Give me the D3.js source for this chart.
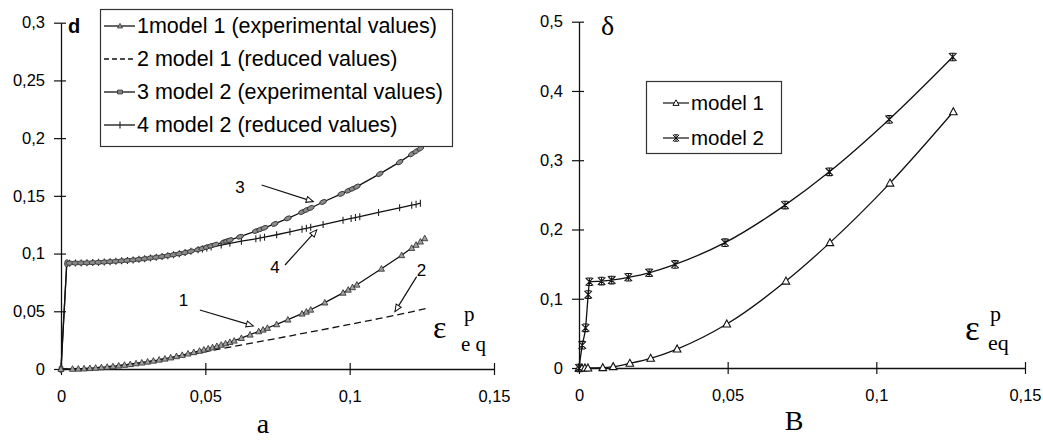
<!DOCTYPE html>
<html>
<head>
<meta charset="utf-8">
<script src="https://cdn.jsdelivr.net/npm/d3@7"></script>
<style>
  html, body { margin: 0; padding: 0; background: #fff; }
  svg { display: block; }
</style>
</head>
<body>
<svg id="chart" width="1043" height="444"></svg>
<script>
// ---------- data ----------
const xTickValues = [0, 0.05, 0.1, 0.15];
const aYTickValues = [0, 0.05, 0.1, 0.15, 0.2, 0.25, 0.3];
const bYTickValues = [0, 0.1, 0.2, 0.3, 0.4, 0.5];

// panel a, curve 1: model 1, experimental values [strain, damage]
const aModel1Exp = [
  [0, 0], [0.004, 0.0001], [0.006, 0.0002], [0.008, 0.0004], [0.010, 0.0007], [0.012, 0.0010],
  [0.014, 0.0014], [0.016, 0.0018], [0.018, 0.0023], [0.020, 0.0029], [0.022, 0.0035], [0.024, 0.0041],
  [0.026, 0.0048], [0.028, 0.0055], [0.030, 0.0063], [0.032, 0.0071], [0.034, 0.0080], [0.036, 0.0089],
  [0.038, 0.0099], [0.040, 0.0110], [0.042, 0.0121], [0.044, 0.0133], [0.046, 0.0145], [0.048, 0.0157],
  [0.0495, 0.0167], [0.051, 0.0177], [0.0525, 0.0187], [0.054, 0.0198], [0.0555, 0.0209], [0.057, 0.0221],
  [0.0585, 0.0233], [0.060, 0.0245], [0.0625, 0.0268], [0.0655, 0.0297], [0.0685, 0.0326], [0.070, 0.0340],
  [0.0715, 0.0355], [0.0747, 0.0387], [0.0786, 0.0427], [0.0835, 0.0479], [0.085, 0.0496], [0.0865, 0.0513],
  [0.0914, 0.0575], [0.0977, 0.0660], [0.0995, 0.0686], [0.101, 0.0708], [0.1025, 0.0730], [0.111, 0.0868],
  [0.118, 0.0985], [0.1215, 0.1048], [0.123, 0.1075], [0.1245, 0.1103], [0.126, 0.1132]
];

// panel a, curve 2: model 1, reduced values
const aModel1Red = [
  [0, 0], [0.01, 0.0007], [0.02, 0.0029], [0.03, 0.0063], [0.04, 0.0105], [0.05, 0.0150], [0.06, 0.0196],
  [0.07, 0.0243], [0.08, 0.0290], [0.09, 0.0338], [0.10, 0.0386], [0.11, 0.0436], [0.12, 0.0488], [0.1266, 0.0524]
];

// panel a, curves 3 and 4 share the initial jump and the early plateau
const aModel2Early = [
  [0, 0], [0.002, 0.0916], [0.003, 0.0917], [0.005, 0.0918], [0.007, 0.0919], [0.009, 0.0920],
  [0.011, 0.0922], [0.013, 0.0924], [0.015, 0.0927], [0.017, 0.0930], [0.019, 0.0933], [0.021, 0.0937],
  [0.023, 0.0941], [0.025, 0.0945], [0.027, 0.0950], [0.029, 0.0955], [0.031, 0.0962], [0.033, 0.0968],
  [0.035, 0.0974], [0.037, 0.0982], [0.039, 0.0990], [0.041, 0.0999], [0.043, 0.1009], [0.045, 0.1020]
];

// panel a, curve 3: model 2, experimental values
const aModel2Exp = aModel2Early.concat([
  [0.0475, 0.1035], [0.049, 0.1045], [0.0505, 0.1056], [0.052, 0.1067], [0.0535, 0.1078], [0.0565, 0.1101],
  [0.0575, 0.1109], [0.0585, 0.1117], [0.062, 0.1146], [0.0675, 0.1195], [0.069, 0.1209], [0.0705, 0.1223],
  [0.074, 0.1257], [0.0786, 0.1305], [0.0835, 0.1360], [0.085, 0.1378], [0.0865, 0.1395], [0.0908, 0.1447],
  [0.0971, 0.1517], [0.0995, 0.1545], [0.101, 0.1562], [0.1025, 0.1580], [0.1104, 0.1690], [0.1173, 0.1792],
  [0.1215, 0.1862], [0.123, 0.1886], [0.1245, 0.1910]
]);

// panel a, curve 4: model 2, reduced values
const aModel2Red = aModel2Early.concat([
  [0.0475, 0.1032], [0.049, 0.1040], [0.0505, 0.1048], [0.052, 0.1056], [0.0555, 0.1074], [0.0585, 0.1089],
  [0.0625, 0.1107], [0.0675, 0.1128], [0.069, 0.1135], [0.0705, 0.1142], [0.0747, 0.1163], [0.0793, 0.1188],
  [0.0835, 0.1211], [0.085, 0.1219], [0.0865, 0.1227], [0.0908, 0.1251], [0.0977, 0.1289], [0.1005, 0.1304],
  [0.102, 0.1312], [0.1035, 0.1320], [0.110, 0.1356], [0.1173, 0.1396], [0.1215, 0.1419], [0.123, 0.1427],
  [0.1245, 0.1436]
]);

// panel a, curve labels: [text, label position, arrow start, arrow tip] in data units
const aCallouts = [
  ["1", [0.0424, 0.0598], [0.0481, 0.0511], [0.0666, 0.0373]],
  ["2", [0.1249, 0.0858], [0.1232, 0.0800], [0.1157, 0.0497]],
  ["3", [0.0620, 0.1580], [0.0695, 0.1594], [0.0874, 0.1450]],
  ["4", [0.0741, 0.0886], [0.0776, 0.0901], [0.0886, 0.1205]]
];

const aLegendLabels = [
  "1model 1 (experimental values)",
  "2 model 1 (reduced values)",
  "3 model 2 (experimental values)",
  "4 model 2 (reduced values)"
];

// panel B
const bModel1 = [
  [0, 0], [0.001, 0], [0.002, 0], [0.003, 0], [0.008, 0.0005], [0.0115, 0.002], [0.0171, 0.0068],
  [0.0241, 0.014], [0.033, 0.0274], [0.0497, 0.0635], [0.0696, 0.1255], [0.0844, 0.181],
  [0.1046, 0.267], [0.1259, 0.37]
];
const bModel2 = [
  [0, 0], [0.0011, 0.033], [0.0022, 0.058], [0.0031, 0.106], [0.0035, 0.1245], [0.0076, 0.1255],
  [0.011, 0.127], [0.0166, 0.131], [0.0236, 0.1375], [0.0323, 0.1496], [0.0491, 0.181],
  [0.0693, 0.2352], [0.0842, 0.2833], [0.1043, 0.3589], [0.1257, 0.449]
];
const bLegendLabels = ["model 1", "model 2"];

// ---------- drawing ----------
const SANS = '"Liberation Sans", Arial, sans-serif';
const SERIF = '"Liberation Serif", "Times New Roman", serif';
const fmt = v => String(v).replace('.', ',');

const svg = d3.select('#chart');

const ax = d3.scaleLinear().domain([0, 0.15]).range([61, 494]);
const ay = d3.scaleLinear().domain([0, 0.3]).range([369, 22.7]);
const bx = d3.scaleLinear().domain([0, 0.15]).range([579, 1025]);
const by = d3.scaleLinear().domain([0, 0.5]).range([368, 21.7]);

function drawAxes(x, y, yTicks) {
  const gx = svg.append('g')
    .attr('transform', `translate(0,${y(0)})`)
    .call(d3.axisBottom(x).tickValues(xTickValues).tickSizeInner(6).tickSizeOuter(0).tickFormat(fmt));
  gx.attr('font-family', SANS).attr('font-size', 16.5);
  gx.select('.domain').attr('stroke', '#111').attr('stroke-width', 1.3);
  gx.selectAll('.tick line').attr('y1', -6).attr('y2', 6).attr('stroke', '#111').attr('stroke-width', 1.2);
  gx.selectAll('.tick text').attr('y', 33).attr('dy', 0).attr('fill', '#000');

  const gy = svg.append('g')
    .attr('transform', `translate(${x(0)},0)`)
    .call(d3.axisLeft(y).tickValues(yTicks).tickSizeInner(7).tickSizeOuter(0).tickFormat(fmt));
  gy.attr('font-family', SANS).attr('font-size', 16.5);
  gy.select('.domain').attr('stroke', '#111').attr('stroke-width', 1.3);
  gy.selectAll('.tick line').attr('x1', 5).attr('x2', -7).attr('stroke', '#111').attr('stroke-width', 1.2);
  gy.selectAll('.tick text').attr('x', -16).attr('fill', '#000');
}

drawAxes(ax, ay, aYTickValues);
drawAxes(bx, by, bYTickValues);

// marker shapes
const shapes = {
  tri: s => `M0,${-s}L${s * 0.95},${s * 0.75}L${-s * 0.95},${s * 0.75}Z`,
  ellipse: s => `M${-s},0A${s},${s * 0.6} 0 1 0 ${s},0A${s},${s * 0.6} 0 1 0 ${-s},0Z`,
  square: s => `M${-s},${-s * 0.8}H${s}V${s * 0.8}H${-s}Z`,
  vtick: s => `M0,${-s}V${s}`,
  star: s => `M${-s},${-s}L${s},${s}M${-s},${s}L${s},${-s}M0,${-s}V${s}M${-s * 0.7},${-s}H${s * 0.7}M${-s * 0.7},${s}H${s * 0.7}`
};

function drawSeries(data, x, y, opt) {
  const line = d3.line().x(d => x(d[0])).y(d => y(d[1])).curve(opt.curve || d3.curveLinear);
  svg.append('path').datum(data)
    .attr('d', line)
    .attr('fill', 'none')
    .attr('stroke', '#111')
    .attr('stroke-width', opt.width || 1.3)
    .attr('stroke-dasharray', opt.dash || null);
  if (opt.shape) {
    svg.append('g').selectAll('path').data(data).join('path')
      .attr('transform', (d, i) => {
        // orient markers along the local direction of the curve
        const p = data[Math.max(i - 1, 0)], n = data[Math.min(i + 1, data.length - 1)];
        const ang = opt.orient ? Math.atan2(y(n[1]) - y(p[1]), x(n[0]) - x(p[0])) * 180 / Math.PI : 0;
        return `translate(${x(d[0])},${y(d[1])}) rotate(${ang})`;
      })
      .attr('d', shapes[opt.shape](opt.size))
      .attr('fill', opt.fill || 'none')
      .attr('stroke', opt.stroke || '#111')
      .attr('stroke-width', opt.sw || 0.8);
  }
}

// panel a curves
drawSeries(aModel1Red, ax, ay, { dash: '7,4', width: 1.3 });
drawSeries(aModel2Red, ax, ay, { shape: 'vtick', size: 3.5, stroke: '#222', sw: 1.1 });
drawSeries(aModel2Exp, ax, ay, { shape: 'ellipse', size: 3.6, fill: '#8a8a8a', stroke: '#2a2a2a', sw: 0.8, orient: true });
drawSeries(aModel1Exp, ax, ay, { shape: 'tri', size: 3.2, fill: '#a0a0a0', stroke: '#2a2a2a', sw: 0.8 });

// panel a callouts
aCallouts.forEach(([label, pos, from, to]) => {
  svg.append('text')
    .attr('x', ax(pos[0])).attr('y', ay(pos[1])).attr('dy', '0.36em')
    .attr('text-anchor', 'middle')
    .attr('font-family', SANS).attr('font-size', 17)
    .text(label);
  const x1 = ax(from[0]), y1 = ay(from[1]), x2 = ax(to[0]), y2 = ay(to[1]);
  svg.append('line')
    .attr('x1', x1).attr('y1', y1).attr('x2', x2).attr('y2', y2)
    .attr('stroke', '#111').attr('stroke-width', 1.2);
  const ang = Math.atan2(y2 - y1, x2 - x1) * 180 / Math.PI;
  svg.append('path')
    .attr('transform', `translate(${x2},${y2}) rotate(${ang})`)
    .attr('d', 'M0,0L-7,-3L-7,3Z')
    .attr('fill', '#fff').attr('stroke', '#111').attr('stroke-width', 1);
});

// panel a legend
const aLeg = svg.append('g');
aLeg.append('rect').attr('x', 100.5).attr('y', 9.5).attr('width', 352).attr('height', 137)
  .attr('fill', '#fff').attr('stroke', '#333').attr('stroke-width', 1.2);
const aLegStyles = [
  { shape: 'tri', size: 2.6, fill: '#a0a0a0', stroke: '#2a2a2a', sw: 0.8 },
  { dash: '5,3' },
  { shape: 'square', size: 2.4, fill: '#8a8a8a', stroke: '#2a2a2a', sw: 0.8 },
  { shape: 'vtick', size: 3.5, stroke: '#222', sw: 1.1 }
];
aLegendLabels.forEach((lbl, i) => {
  const base = 33 + i * 33;
  const ly = base - 7;
  const st = aLegStyles[i];
  aLeg.append('line').attr('x1', 104).attr('x2', 135).attr('y1', ly).attr('y2', ly)
    .attr('stroke', '#111').attr('stroke-width', 1.3).attr('stroke-dasharray', st.dash || null);
  if (st.shape) {
    aLeg.append('path').attr('transform', `translate(120,${ly})`).attr('d', shapes[st.shape](st.size))
      .attr('fill', st.fill || 'none').attr('stroke', st.stroke).attr('stroke-width', st.sw);
  }
  aLeg.append('text').attr('x', 137).attr('y', base)
    .attr('font-family', SANS).attr('font-size', 21.5).attr('fill', '#000').text(lbl);
});

// panel B curves
drawSeries(bModel1, bx, by, { curve: d3.curveMonotoneX, shape: 'tri', size: 4, fill: '#fff', stroke: '#111', sw: 1.1 });
drawSeries(bModel2, bx, by, { curve: d3.curveMonotoneX, shape: 'star', size: 3.8, stroke: '#111', sw: 1.1 });

// panel B legend
const bLeg = svg.append('g');
bLeg.append('rect').attr('x', 646.5).attr('y', 81.5).attr('width', 135).attr('height', 72)
  .attr('fill', '#fff').attr('stroke', '#333').attr('stroke-width', 1.2);
const bLegShapes = [
  { shape: 'tri', size: 3.2, fill: '#fff' },
  { shape: 'star', size: 3.2, fill: 'none' }
];
bLegendLabels.forEach((lbl, i) => {
  const base = 110 + i * 35;
  const ly = base - 7;
  bLeg.append('line').attr('x1', 663).attr('x2', 689).attr('y1', ly).attr('y2', ly)
    .attr('stroke', '#111').attr('stroke-width', 1.2);
  bLeg.append('path').attr('transform', `translate(676,${ly})`).attr('d', shapes[bLegShapes[i].shape](bLegShapes[i].size))
    .attr('fill', bLegShapes[i].fill).attr('stroke', '#111').attr('stroke-width', 1);
  bLeg.append('text').attr('x', 691).attr('y', base)
    .attr('font-family', SANS).attr('font-size', 20.5).attr('fill', '#000').text(lbl);
});

// axis titles
function txt(x, y, s, size, family, extra) {
  const t = svg.append('text').attr('x', x).attr('y', y)
    .attr('font-family', family).attr('font-size', size).attr('fill', '#000').text(s);
  if (extra) extra(t);
  return t;
}
txt(68, 33, 'd', 20, SANS, t => t.attr('font-weight', 'bold'));
txt(601, 35, 'δ', 28, SERIF);

txt(433, 338, 'ε', 32, SERIF);
txt(464, 321, 'p', 21, SERIF);
txt(461, 351, 'e q', 21, SERIF);

txt(965, 340, 'ε', 35, SERIF);
txt(990, 321, 'p', 22, SERIF);
txt(988, 350, 'eq', 22, SERIF);

txt(263, 433, 'a', 28, SERIF, t => t.attr('text-anchor', 'middle'));
txt(794, 430, 'B', 28, SERIF, t => t.attr('text-anchor', 'middle'));
</script>
</body>
</html>
